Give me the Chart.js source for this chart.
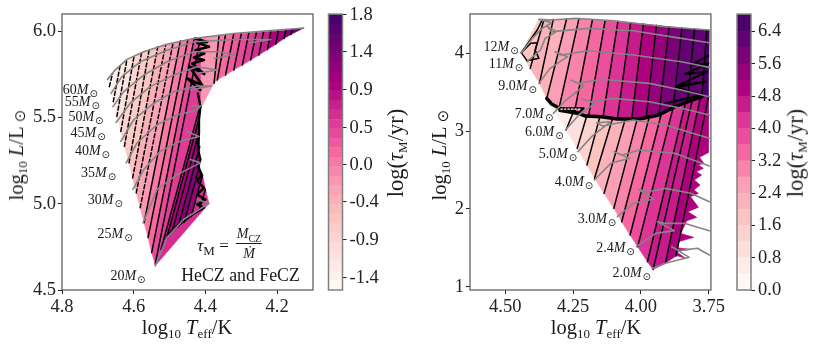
<!DOCTYPE html>
<html>
<head>
<meta charset="utf-8">
<script src="https://cdn.jsdelivr.net/npm/chart.js@4"></script>
<style>
    html, body { margin: 0; padding: 0; background: #fff; }
    body { position: relative; width: 814px; height: 346px; overflow: hidden; font-family: 'Liberation Serif', serif; color: #1a1a1a; }
    canvas { position: absolute; top: 0; }
    .lbl { position: absolute; white-space: nowrap; font-size: 20.5px; line-height: 1; transform: translate(-50%, -50%); }
    .rot { transform: translate(-50%, -50%) rotate(-90deg); }
    .big { font-size: 22.5px; }
    .lbl sub { font-size: 13px; line-height: 0; vertical-align: -4px; }
    .sun { font-family: 'DejaVu Sans'; font-size: 15px; vertical-align: -2px; }
    .frac { position: absolute; text-align: center; font-size: 14px; line-height: 1; transform: translate(-50%, -50%); }
    .frac div:first-child { border-bottom: 1px solid #1a1a1a; padding: 0 1px 2px; }
    .frac sub { font-size: 10px; line-height: 0; }
</style>
</head>
<body>
<canvas id="left-hr" width="320" height="346" style="left:0"></canvas>
<canvas id="left-bar" width="80" height="346" style="left:320px"></canvas>
<canvas id="right-hr" width="320" height="346" style="left:407px"></canvas>
<canvas id="right-bar" width="84" height="346" style="left:730px"></canvas>

<div class="lbl rot" style="left:17px;top:155px">log<sub>10</sub> <i>L</i>/L <span class="sun">⊙</span></div>
<div class="lbl" style="left:187px;top:327px">log<sub>10</sub> <i>T</i><sub>eff</sub>/K</div>
<div class="lbl rot big" style="left:396px;top:153px">log(<i>τ</i><sub>M</sub>/yr)</div>
<div class="lbl rot" style="left:440px;top:155px">log<sub>10</sub> <i>L</i>/L <span class="sun">⊙</span></div>
<div class="lbl" style="left:596px;top:327px">log<sub>10</sub> <i>T</i><sub>eff</sub>/K</div>
<div class="lbl rot big" style="left:796px;top:153px">log(<i>τ</i><sub>M</sub>/yr)</div>
<div class="lbl" style="left:213px;top:245px;font-size:17px"><i>τ</i><sub>M</sub> =</div>
<div class="frac" style="left:249px;top:244px"><div><i>M</i><sub>CZ</sub></div><div style="padding-top:3px"><i>Ṁ</i></div></div>
<div class="lbl" style="left:240.5px;top:276px;font-size:17.8px">HeCZ and FeCZ</div>

<script>
'use strict';

// colormap stops (matplotlib RdPu)
var rdpuStops = ['#fff7f3', '#fde0dd', '#fcc5c0', '#fa9fb5', '#f768a1', '#dd3497', '#ae017e', '#7a0177', '#49006a'];

// ---- left panel data: [Teff bottom, L bottom, Teff top, L top]
var leftLines = [
    [4.673, 5.721, 4.673, 5.721],
    [4.668, 5.679, 4.659, 5.754], [4.657, 5.592, 4.638, 5.800], [4.647, 5.506, 4.619, 5.837],
    [4.636, 5.419, 4.599, 5.856], [4.626, 5.333, 4.578, 5.877], [4.613, 5.237, 4.557, 5.892],
    [4.603, 5.150, 4.533, 5.910], [4.593, 5.063, 4.511, 5.923], [4.582, 4.977, 4.490, 5.935],
    [4.571, 4.890, 4.470, 5.944], [4.560, 4.804, 4.449, 5.952], [4.550, 4.717, 4.431, 5.960],
    [4.540, 4.650, 4.414, 5.963], [4.524, 4.733, 4.414, 5.573], [4.509, 4.794, 4.418, 5.492],
    [4.493, 4.837, 4.418, 5.413], [4.476, 4.867, 4.416, 5.331], [4.459, 4.894, 4.417, 5.215],
    [4.440, 4.925, 4.408, 5.167], [4.418, 4.958, 4.400, 5.083],
    [4.390, 5.002, 4.390, 5.002]
];
var leftTau = [-1.45, -1.35, -1.25, -1.1, -0.95, -0.8, -0.65, -0.5, -0.35, -0.2, 0, 0.15, 0.3, 0.5, 0.7, 0.9, 1.1, 1.3, 1.0, 0.6, 0.5];
var leftWedgeLines = [
    [4.416, 5.544, 4.414, 5.963],
    [4.376, 5.698, 4.362, 5.977], [4.367, 5.717, 4.344, 5.981], [4.344, 5.746, 4.321, 5.985],
    [4.321, 5.775, 4.300, 5.987], [4.297, 5.804, 4.279, 5.990], [4.274, 5.833, 4.258, 5.994],
    [4.251, 5.862, 4.238, 5.996], [4.227, 5.894, 4.218, 5.998], [4.204, 5.925, 4.197, 6.002],
    [4.181, 5.958, 4.176, 6.006], [4.162, 5.981, 4.158, 6.010],
    [4.126, 6.019, 4.126, 6.019]
];
var leftWedgeTau = [-0.2, 0.05, 0.15, 0.25, 0.4, 0.5, 0.6, 0.75, 0.9, 1.05, 1.25, 1.45];
var leftLowerPatch = [[4.540, 4.640], [4.390, 5.002], [4.418, 4.958], [4.440, 4.925], [4.459, 4.894], [4.476, 4.867], [4.493, 4.837], [4.509, 4.794], [4.524, 4.733]];
var leftLowerTau = 0.55;
var leftKnotLow = [[4.502, 4.823], [4.479, 4.871], [4.437, 4.938], [4.404, 4.977], [4.423, 4.996], [4.400, 5.025], [4.423, 5.054], [4.404, 5.092], [4.423, 5.131], [4.411, 5.169], [4.421, 5.217], [4.414, 5.256], [4.421, 5.313], [4.418, 5.410], [4.418, 5.487], [4.414, 5.563], [4.421, 5.640]];
var leftKnotHigh = [[4.414, 5.660], [4.451, 5.727], [4.409, 5.688], [4.446, 5.798], [4.403, 5.752], [4.437, 5.813], [4.404, 5.833], [4.432, 5.848], [4.403, 5.871], [4.428, 5.890], [4.390, 5.910], [4.423, 5.933], [4.395, 5.938], [4.428, 5.958]];
var leftTracks = [
    [[4.673, 5.721], [4.652, 5.775], [4.619, 5.837], [4.572, 5.881], [4.507, 5.925], [4.432, 5.958], [4.321, 5.987], [4.227, 6.002], [4.126, 6.019]],
    [[4.663, 5.640], [4.633, 5.737], [4.582, 5.823], [4.507, 5.890], [4.432, 5.938], [4.321, 5.952], [4.218, 5.952], [4.274, 5.933]],
    [[4.658, 5.563], [4.628, 5.650], [4.572, 5.746], [4.507, 5.823], [4.432, 5.881], [4.367, 5.881], [4.316, 5.865], [4.376, 5.842]],
    [[4.649, 5.471], [4.610, 5.583], [4.554, 5.679], [4.488, 5.746], [4.423, 5.794], [4.367, 5.775], [4.423, 5.756]],
    [[4.636, 5.362], [4.600, 5.487], [4.544, 5.583], [4.488, 5.650], [4.423, 5.683], [4.384, 5.683], [4.442, 5.660]],
    [[4.621, 5.237], [4.591, 5.352], [4.535, 5.458], [4.479, 5.515], [4.423, 5.544], [4.414, 5.567], [4.437, 5.567]],
    [[4.602, 5.083], [4.572, 5.198], [4.526, 5.304], [4.470, 5.362], [4.418, 5.390], [4.451, 5.419]],
    [[4.574, 4.890], [4.535, 5.083], [4.479, 5.169], [4.414, 5.237], [4.442, 5.256]],
    [[4.540, 4.640], [4.507, 4.804], [4.460, 4.910], [4.390, 5.002], [4.423, 5.025]]
];
var leftMasses = ['60', '55', '50', '45', '40', '35', '30', '25', '20'];
var leftMassT = [4.798, 4.792, 4.782, 4.776, 4.764, 4.747, 4.728, 4.701, 4.665];
var leftMassL = [5.656, 5.587, 5.502, 5.410, 5.302, 5.175, 5.019, 4.825, 4.579];
var leftXTicks = [4.8, 4.6, 4.4, 4.2];
var leftYTicks = [4.5, 5.0, 5.5, 6.0];
var leftLevels = [-1.54, -1.42, -1.31, -1.19, -1.08, -0.96, -0.85, -0.73, -0.62, -0.5, -0.39, -0.27, -0.16, -0.04, 0.07, 0.19, 0.3, 0.42, 0.53, 0.65, 0.76, 0.88, 0.99, 1.11, 1.22, 1.34, 1.45, 1.57, 1.68, 1.81];
var leftBarTicks = [-1.39, -0.93, -0.47, -0.02, 0.43, 0.89, 1.35, 1.8];
var leftBarLabels = ['-1.4', '-0.9', '-0.4', '0.0', '0.5', '0.9', '1.4', '1.8'];

// ---- right panel data
var rightUpperLines = [
    [4.441, 4.009, 4.376, 4.437],
    [4.408, 3.807, 4.358, 4.429], [4.374, 3.614, 4.323, 4.437], [4.347, 3.421, 4.274, 4.441],
    [4.302, 3.293, 4.229, 4.437], [4.246, 3.228, 4.179, 4.429], [4.193, 3.194, 4.132, 4.420],
    [4.140, 3.177, 4.085, 4.407], [4.087, 3.156, 4.038, 4.394], [4.034, 3.151, 3.991, 4.377],
    [3.981, 3.168, 3.943, 4.360], [3.934, 3.207, 3.896, 4.343], [3.881, 3.306, 3.849, 4.326],
    [3.828, 3.400, 3.802, 4.313], [3.775, 3.443, 3.757, 4.300],
    [3.751, 3.443, 3.748, 4.300]
];
var rightUpperTau = [1.9, 2.0, 2.3, 2.7, 3.0, 3.3, 3.7, 4.1, 4.5, 4.9, 5.3, 5.6, 6.0, 6.3, 6.6];
var rightLowerLines = [
    [4.347, 3.421, 4.300, 3.280],
    [4.276, 3.014, 4.252, 3.220], [4.235, 2.778, 4.199, 3.203], [4.199, 2.564, 4.152, 3.177],
    [4.171, 2.393, 4.105, 3.160], [4.136, 2.200, 4.058, 3.151], [4.100, 2.007, 4.014, 3.151],
    [4.071, 1.835, 3.969, 3.186], [4.040, 1.664, 3.925, 3.220], [4.012, 1.514, 3.881, 3.306],
    [3.976, 1.321, 3.834, 3.391], [3.955, 1.222, 3.810, 3.408], [3.910, 1.300, 3.781, 3.434],
    [3.871, 1.394, 3.751, 3.443]
];
var rightLowerTau = [0.6, 0.9, 1.3, 1.7, 2.1, 2.5, 2.9, 3.3, 3.7, 4.1, 4.4, 4.6, 4.8];
var rightEdgePatch = [[3.871, 1.394], [3.751, 3.443], [3.752, 2.723], [3.784, 2.663], [3.768, 2.586], [3.788, 2.564], [3.770, 2.521], [3.796, 2.478], [3.776, 2.435], [3.803, 2.371], [3.782, 2.307], [3.805, 2.243], [3.788, 2.200], [3.817, 2.157], [3.788, 2.020], [3.827, 1.964], [3.794, 1.891], [3.831, 1.848], [3.853, 1.685], [3.805, 1.634], [3.862, 1.578], [3.882, 1.505], [3.817, 1.480], [3.870, 1.450], [3.835, 1.364], [3.876, 1.407]];
var rightEdgeTau = 5.0;
var rightRidge = [[4.347, 3.421], [4.329, 3.348], [4.300, 3.293], [4.246, 3.250], [4.205, 3.194], [4.146, 3.186], [4.087, 3.156], [4.005, 3.156], [3.934, 3.207], [3.875, 3.314], [3.816, 3.391], [3.775, 3.443]];
var rightZigzag = [[3.752, 3.966], [3.816, 3.850], [3.752, 3.871], [3.837, 3.734], [3.757, 3.764], [3.866, 3.580], [3.763, 3.636], [3.869, 3.563], [3.776, 3.464], [3.910, 3.357]];
var rightBox = [[4.441, 4.009], [4.406, 4.129], [4.382, 4.137], [4.390, 4.043], [4.376, 3.936], [4.420, 3.906], [4.441, 4.009]];
var rightBoxStem = [[4.441, 4.009], [4.382, 4.300], [4.364, 4.429]];
var rightHatch = [[4.302, 3.293], [4.211, 3.293], [4.235, 3.220], [4.300, 3.258], [4.302, 3.293]];
var rightHatchDots = [[4.295, 3.284], [4.220, 3.284]];
var rightTracks = [
    [[4.441, 4.009], [4.400, 4.193], [4.364, 4.321], [4.329, 4.394], [4.376, 4.437], [4.329, 4.429], [4.241, 4.450], [4.099, 4.420], [3.910, 4.343], [3.748, 4.300]],
    [[4.420, 3.893], [4.370, 4.043], [4.353, 4.193], [4.311, 4.279], [4.347, 4.351], [4.329, 4.279], [4.193, 4.321], [4.028, 4.291], [3.851, 4.193], [3.748, 4.137]],
    [[4.376, 3.614], [4.335, 3.807], [4.270, 3.957], [4.317, 4.021], [4.294, 3.979], [4.193, 4.034], [4.028, 3.979], [3.851, 3.893], [3.748, 3.820]],
    [[4.323, 3.228], [4.276, 3.400], [4.211, 3.580], [4.258, 3.657], [4.229, 3.614], [4.146, 3.666], [3.969, 3.614], [3.851, 3.529], [3.748, 3.443]],
    [[4.278, 3.014], [4.229, 3.207], [4.170, 3.357], [4.217, 3.413], [4.182, 3.378], [4.099, 3.421], [3.969, 3.378], [3.851, 3.293], [3.748, 3.207]],
    [[4.232, 2.736], [4.182, 2.928], [4.111, 3.121], [4.164, 3.108], [4.140, 3.066], [4.028, 3.143], [3.910, 3.078], [3.748, 2.907]],
    [[4.172, 2.371], [4.111, 2.586], [4.042, 2.650], [4.099, 2.736], [4.070, 2.693], [4.005, 2.757], [3.875, 2.714], [3.748, 2.551]],
    [[4.087, 1.900], [4.028, 2.071], [3.952, 2.127], [4.011, 2.251], [3.975, 2.221], [3.910, 2.264], [3.816, 2.200], [3.748, 2.093]],
    [[4.017, 1.514], [3.946, 1.685], [3.877, 1.720], [3.940, 1.835], [3.910, 1.814], [3.840, 1.814], [3.748, 1.720]],
    [[3.958, 1.235], [3.910, 1.300], [3.822, 1.377], [3.887, 1.514], [3.857, 1.463], [3.792, 1.493], [3.748, 1.407]]
];
var rightMasses = ['12', '11', '9.0', '7.0', '6.0', '5.0', '4.0', '3.0', '2.4', '2.0'];
var rightMassT = [4.580, 4.561, 4.526, 4.465, 4.427, 4.377, 4.318, 4.233, 4.165, 4.105];
var rightMassL = [4.073, 3.859, 3.571, 3.216, 2.980, 2.697, 2.345, 1.870, 1.492, 1.167];
var rightXTicks = [4.5, 4.25, 4.0, 3.75];
var rightYTicks = [1, 2, 3, 4];
var rightLevels = [0, 0.4, 0.8, 1.2, 1.6, 2.0, 2.4, 2.8, 3.2, 3.6, 4.0, 4.4, 4.8, 5.2, 5.6, 6.0, 6.4, 6.83];
var rightBarTicks = [0, 0.8, 1.6, 2.4, 3.2, 4.0, 4.8, 5.6, 6.4];
var rightBarLabels = ['0.0', '0.8', '1.6', '2.4', '3.2', '4.0', '4.8', '5.6', '6.4'];

var FONT = "'Liberation Serif', serif";
var TICK_COLOR = '#222';
var TRACK_GRAY = '#858585';
var TICK_SIZE = 18.5;

function hexToRgb(h) {
    return [parseInt(h.slice(1, 3), 16), parseInt(h.slice(3, 5), 16), parseInt(h.slice(5, 7), 16)];
}

function rdpu(t) {
    var pos = Math.min(Math.max(t, 0), 1) * (rdpuStops.length - 1);
    var i = Math.min(Math.floor(pos), rdpuStops.length - 2);
    var a = hexToRgb(rdpuStops[i]), b = hexToRgb(rdpuStops[i + 1]), f = pos - i;
    return 'rgb(' + a.map(function (v, k) { return Math.round(v + (b[k] - v) * f); }).join(',') + ')';
}

// colour of the contour band a value falls into
function bandColor(value, levels) {
    var i = 0;
    while (i < levels.length - 2 && value >= levels[i + 1]) i++;
    return rdpu(i / (levels.length - 2));
}

function xy(points) {
    return points.map(function (p) { return { x: p[0], y: p[1] }; });
}

function patch(points, value, levels) {
    var color = bandColor(value, levels);
    return {
        data: xy(points.concat([points[0]])),
        showLine: true, pointRadius: 0, tension: 0,
        fill: 'shape', backgroundColor: color, borderColor: color, borderWidth: 0.6,
        order: 5
    };
}

function strips(lines, taus, levels) {
    return taus.map(function (tau, i) {
        var a = lines[i], b = lines[i + 1];
        return patch([[a[0], a[1]], [b[0], b[1]], [b[2], b[3]], [a[2], a[3]]], tau, levels);
    });
}

function stroke(points, color, width, dash, order) {
    return {
        data: xy(points),
        showLine: true, pointRadius: 0, tension: 0, fill: false,
        borderColor: color, borderWidth: width, borderDash: dash || [],
        borderCapStyle: 'round', borderJoinStyle: 'round',
        order: order
    };
}

// black iso lines, first and last entries are the outline only
function isoLines(lines, dashedUpTo) {
    return lines.slice(1, -1).map(function (l, i) {
        var dash = i < dashedUpTo ? [4, 2.5] : [];
        return stroke([[l[0], l[1]], [l[2], l[3]]], '#000', 1.5, dash, 3);
    });
}

function tracks(list) {
    return list.map(function (t) { return stroke(t, TRACK_GRAY, 1.6, [], 1); });
}

var framePlugin = {
    id: 'frame',
    afterDraw: function (chart, args, opts) {
        var a = chart.chartArea, ctx = chart.ctx;
        ctx.save();
        ctx.strokeStyle = opts.color;
        ctx.lineWidth = opts.width;
        ctx.strokeRect(a.left, a.top, a.right - a.left, a.bottom - a.top);
        ctx.restore();
    }
};

// "60 M sun" labels, anchored to the data scales
function massLabels(names, ts, ls) {
    return {
        id: 'massLabels',
        afterDatasetsDraw: function (chart) {
            var ctx = chart.ctx;
            ctx.save();
            ctx.fillStyle = '#1a1a1a';
            ctx.textBaseline = 'middle';
            ctx.textAlign = 'left';
            names.forEach(function (n, i) {
                var x = chart.scales.x.getPixelForValue(ts[i]);
                var y = chart.scales.y.getPixelForValue(ls[i]);
                ctx.font = "14px " + FONT;
                ctx.fillText(n, x, y);
                x += ctx.measureText(n).width;
                ctx.font = "italic 14px " + FONT;
                ctx.fillText('M', x, y);
                x += ctx.measureText('M').width + 1;
                ctx.font = "10px 'DejaVu Sans'";
                ctx.fillText('⊙', x, y + 4);
            });
            ctx.restore();
        }
    };
}

function panel(id, datasets, xRange, yRange, xTicks, yTicks, xDigits, yDigits, axisWidth, padRight, labelPlugin) {
    return new Chart(document.getElementById(id), {
        type: 'scatter',
        data: { datasets: datasets },
        plugins: [framePlugin, labelPlugin],
        options: {
            responsive: false,
            animation: false,
            layout: { padding: { top: 14, right: padRight, left: 0, bottom: 0 } },
            plugins: {
                legend: { display: false },
                tooltip: { enabled: false },
                frame: { color: '#555', width: 1.2 }
            },
            scales: {
                x: {
                    type: 'linear', reverse: true, min: xRange[0], max: xRange[1],
                    afterBuildTicks: function (s) { s.ticks = xTicks.map(function (v) { return { value: v }; }); },
                    afterFit: function (s) { s.height = 56; },
                    grid: { drawOnChartArea: false, color: TICK_COLOR, tickLength: 4 },
                    border: { display: false },
                    ticks: { maxRotation: 0, autoSkip: false, padding: 2, color: TICK_COLOR, font: { family: FONT, size: TICK_SIZE },
                        callback: function (v) { return v.toFixed(xDigits); } }
                },
                y: {
                    type: 'linear', min: yRange[0], max: yRange[1],
                    afterBuildTicks: function (s) { s.ticks = yTicks.map(function (v) { return { value: v }; }); },
                    afterFit: function (s) { s.width = axisWidth; },
                    grid: { drawOnChartArea: false, color: TICK_COLOR, tickLength: 4 },
                    border: { display: false },
                    ticks: { autoSkip: false, padding: 2, color: TICK_COLOR, font: { family: FONT, size: TICK_SIZE },
                        callback: function (v) { return v.toFixed(yDigits); } }
                }
            }
        }
    });
}

function colorbar(id, levels, ticks, labels, padLeft, axisWidth) {
    var bands = [];
    for (var i = 0; i < levels.length - 1; i++) {
        bands.push({
            data: [[levels[i], levels[i + 1]]],
            backgroundColor: rdpu(i / (levels.length - 2)),
            barPercentage: 1, categoryPercentage: 1, grouped: false
        });
    }
    return new Chart(document.getElementById(id), {
        type: 'bar',
        data: { labels: [''], datasets: bands },
        plugins: [framePlugin],
        options: {
            responsive: false,
            animation: false,
            layout: { padding: { top: 14, bottom: 56, left: padLeft, right: 0 } },
            plugins: {
                legend: { display: false },
                tooltip: { enabled: false },
                frame: { color: '#808080', width: 1.5 }
            },
            scales: {
                x: { display: false },
                y: {
                    position: 'right',
                    min: levels[0], max: levels[levels.length - 1],
                    afterBuildTicks: function (s) { s.ticks = ticks.map(function (v) { return { value: v }; }); },
                    afterFit: function (s) { s.width = axisWidth; },
                    grid: { drawOnChartArea: false, color: TICK_COLOR, tickLength: 4 },
                    border: { display: false },
                    ticks: { autoSkip: false, padding: 3, color: TICK_COLOR, font: { family: FONT, size: TICK_SIZE },
                        callback: function (v, i) { return labels[i]; } }
                }
            }
        }
    });
}

var leftSets = [].concat(
    strips(leftLines, leftTau, leftLevels),
    strips(leftWedgeLines, leftWedgeTau, leftLevels),
    [patch(leftLowerPatch, leftLowerTau, leftLevels)],
    isoLines(leftLines, 9),
    isoLines(leftWedgeLines, 0),
    [stroke(leftKnotLow, '#000', 2.4, [], 2), stroke(leftKnotHigh, '#000', 2.6, [], 2)],
    tracks(leftTracks)
);

var rightSets = [].concat(
    strips(rightUpperLines, rightUpperTau, rightLevels),
    strips(rightLowerLines, rightLowerTau, rightLevels),
    [patch(rightEdgePatch, rightEdgeTau, rightLevels)],
    isoLines(rightUpperLines, 0),
    isoLines(rightLowerLines.concat([rightLowerLines[0]]), 0),
    [
        stroke(rightRidge, '#000', 3.5, [], 2),
        stroke(rightZigzag, '#000', 2.2, [], 2),
        stroke(rightBox, '#000', 1.5, [], 2),
        stroke(rightBoxStem, '#000', 1.5, [], 2),
        stroke(rightHatch, '#000', 2, [], 2),
        stroke(rightHatchDots, '#fff', 1.2, [1.5, 2], 1.5)
    ],
    tracks(rightTracks)
);

panel('left-hr', leftSets, [4.1, 4.8], [4.5, 6.1], leftXTicks, leftYTicks, 1, 1, 62, 7, massLabels(leftMasses, leftMassT, leftMassL));
colorbar('left-bar', leftLevels, leftBarTicks, leftBarLabels, 8.5, 57.5);
panel('right-hr', rightSets, [3.742, 4.63], [0.957, 4.506], rightXTicks, rightYTicks, 2, 0, 63, 6, massLabels(rightMasses, rightMassT, rightMassL));
colorbar('right-bar', rightLevels, rightBarTicks, rightBarLabels, 7, 63);
</script>
</body>
</html>
